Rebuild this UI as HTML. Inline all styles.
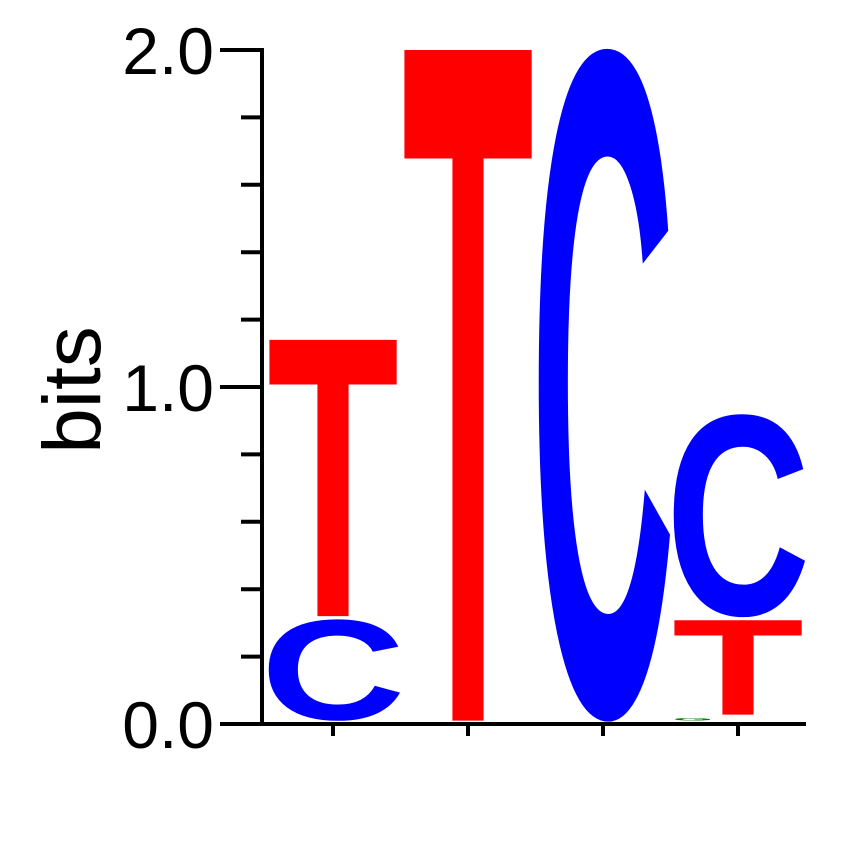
<!DOCTYPE html>
<html><head><meta charset="utf-8"><style>
html,body{margin:0;padding:0;background:#fff;overflow:hidden;width:850px;height:842px;}
svg{display:block;}
text{font-family:"Liberation Sans",sans-serif;}
</style></head><body>
<svg id="logo" width="850" height="842" viewBox="0 0 850 842">
<text x="0" y="0" transform="translate(100,390) rotate(-90)" text-anchor="middle" font-size="82">bits</text>
<g id="axes"></g>
<g id="letters"></g>
</svg>
<script>
const positions = [1, 2, 3, 4];
const letters = [["C","T"], ["T"], ["C"], ["G","T","C"]];
const heights = [[0.30, 0.82], [1.99], [1.99], [0.008, 0.28, 0.60]];
const yTicks = [0, 0.2, 0.4, 0.6, 0.8, 1.0, 1.2, 1.4, 1.6, 1.8, 2.0];
const yLabels = ["0.0", "1.0", "2.0"];
const colors = {A:"#00a000", C:"#0000ff", G:"#008000", T:"#ff0000"};
const NS = "http://www.w3.org/2000/svg";
const y = v => 724 - v * 337;
const x = p => 333 + (p - 1) * 135;
const axes = document.getElementById('axes');
const lettersG = document.getElementById('letters');
function mk(tag, attrs, parent){const e=document.createElementNS(NS,tag);for(const k in attrs)e.setAttribute(k,attrs[k]);parent.appendChild(e);return e;}
const yAxis = mk('line',{x1:262,y1:y(2)-2,x2:262,y2:y(0)+2,stroke:'#000','stroke-width':4},axes);


const xAxis = mk('line',{x1:260,y1:y(0),x2:806,y2:y(0),stroke:'#000','stroke-width':4},axes);


yTicks.forEach(v=>{
  const major = Math.abs(v - Math.round(v)) < 1e-6;
  const t = mk('line',{x1:major?220:241,y1:y(v),x2:262,y2:y(v),stroke:'#000','stroke-width':4},axes);
  
  
});
yLabels.forEach(s=>{
  const v = parseFloat(s);
  const t = mk('text',{x:214,y:y(v)+24,'text-anchor':'end','font-size':66},axes);
  t.textContent = s;
  
  
});
positions.forEach(p=>{
  const t = mk('line',{x1:x(p),y1:y(0),x2:x(p),y2:y(0)+12,stroke:'#000','stroke-width':4},axes);
  
  
});
// ink metrics per glyph at font-size 100: [top above baseline, bottom below baseline, textLength for 128px ink]
const ink = {T:[68.8,0,132], C:[69.7,0.87,145], G:[69.7,0.87,145], A:[72,0,132]};
positions.forEach((p,i)=>{
  let base = 0.01;
  letters[i].forEach((L,j)=>{
    const h = heights[i][j];
    const m = ink[L];
    let w = m[2];
    if (L === 'G') w = 40;
    const top = y(base + h), bot = y(base);
    const sy = (bot - top) / (m[0] + m[1]);
    const baseline = bot - m[1]*sy;
    const t = mk('text',{x:0,y:0,'font-size':100,'font-weight':'bold',fill:colors[L],
      textLength:w,lengthAdjust:'spacingAndGlyphs',
      transform:`translate(${x(p)-w/2 + (L==='G'?-45:0)},${baseline}) scale(1,${sy})`},lettersG);
    t.textContent = L;
    
    
    base += h + 0.01;
  });
});
</script>
</body></html>
